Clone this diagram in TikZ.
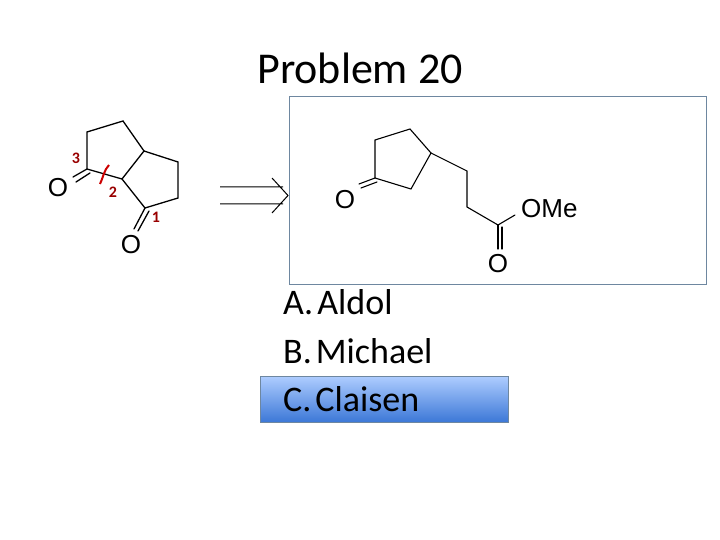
\documentclass[tikz,border=0pt]{standalone}
\usepackage{fontspec}
\usetikzlibrary{calc}
\setmainfont{Carlito}
\newfontfamily\arialf{Liberation Sans}
\definecolor{boxc}{RGB}{110,135,160}
\definecolor{hitop}{RGB}{175,205,255}
\definecolor{hibot}{RGB}{60,120,215}
\begin{document}
\begin{tikzpicture}[x=1pt,y=-1pt,
  bond/.style={line width=1.3pt,line cap=round},
  atom/.style={font=\arialf\fontsize{26}{26}\selectfont,inner sep=0pt},
  num/.style={font=\bfseries\fontsize{16}{16}\selectfont,text=red!60!black,inner sep=0pt},
  opt/.style={font=\fontsize{36}{36}\selectfont,anchor=west,inner sep=0pt}]
\useasboundingbox (0,0) rectangle (720,540);
\node[font=\fontsize{44}{44}\selectfont] (title) at (360,68) {Problem 20};
% left molecule
\coordinate (a1) at (87,132); \coordinate (a2) at (123,121); \coordinate (a3) at (144,151);
\coordinate (a4) at (122,179); \coordinate (a5) at (87,169);
\coordinate (b2) at (178,162); \coordinate (b3) at (178,198); \coordinate (b4) at (145,208);
\draw[bond] (a5)--(a1)--(a2)--(a3)--(a4)--(a5);
\draw[bond] (a3)--(b2)--(b3)--(b4)--(a4);
\node[atom] (o1) at (58,188) {O};
\node[atom] (o2) at (131,245) {O};
\draw[bond] (a5)--(73,177); \draw[bond] ($(a5)+(3,4)$)--(76,182);
\draw[bond] (b4)--(134,229); \draw[bond] ($(b4)+(4,3)$)--(138,231);
\draw[red!80!black,line width=2pt] (100,184) .. controls (103,178) and (104,170) .. (109,165);
\node[num] (n3) at (76,158) {3};
\node[num] (n2) at (113,192) {2};
\node[num] (n1) at (156,217) {1};
% retro arrow
\coordinate (r1) at (220,187); \coordinate (r2) at (220,204); \coordinate (tip) at (288,195.5);
\draw[line width=1pt] (r1)--(283,187) (r2)--(283,204) (272,178)--(tip)--(272,213);
% box
\draw[color=boxc,line width=1pt] (289,97) rectangle (706,284);
\coordinate (c1) at (375,140); \coordinate (c2) at (410,129); \coordinate (c3) at (431,153);
\coordinate (c4) at (411,189); \coordinate (c5) at (375,178);
\coordinate (d1) at (467,171); \coordinate (d2) at (467,207); \coordinate (d3) at (498,225);
\draw[bond,line width=1.1pt] (c5)--(c1)--(c2)--(c3)--(c4)--(c5);
\draw[bond,line width=1.1pt] (c3)--(d1)--(d2)--(d3)--(515,215);
\draw[bond,line width=1.1pt] (c5)--(359,184) ($(c5)+(2,4)$)--(361,188);
\draw[bond,line width=1.1pt] (d3)--(498,249) (502,227)--(502,249);
\node[atom] (o3) at (345,200) {O};
\node[atom] (o4) at (498,264) {O};
\node[atom,anchor=west] (ome) at (521,209) {OMe};
% options
\shade[top color=hitop,bottom color=hibot] (260,376) rectangle (508,422);
\draw[boxc] (260,376) rectangle (508,422);
\node[opt] (oa) at (283,302) {A.\hspace{4pt}Aldol};
\node[opt] (ob) at (283,351) {B.\hspace{4pt}Michael};
\node[opt] (oc) at (283,399) {C.\hspace{4pt}Claisen};
\end{tikzpicture}
\end{document}
